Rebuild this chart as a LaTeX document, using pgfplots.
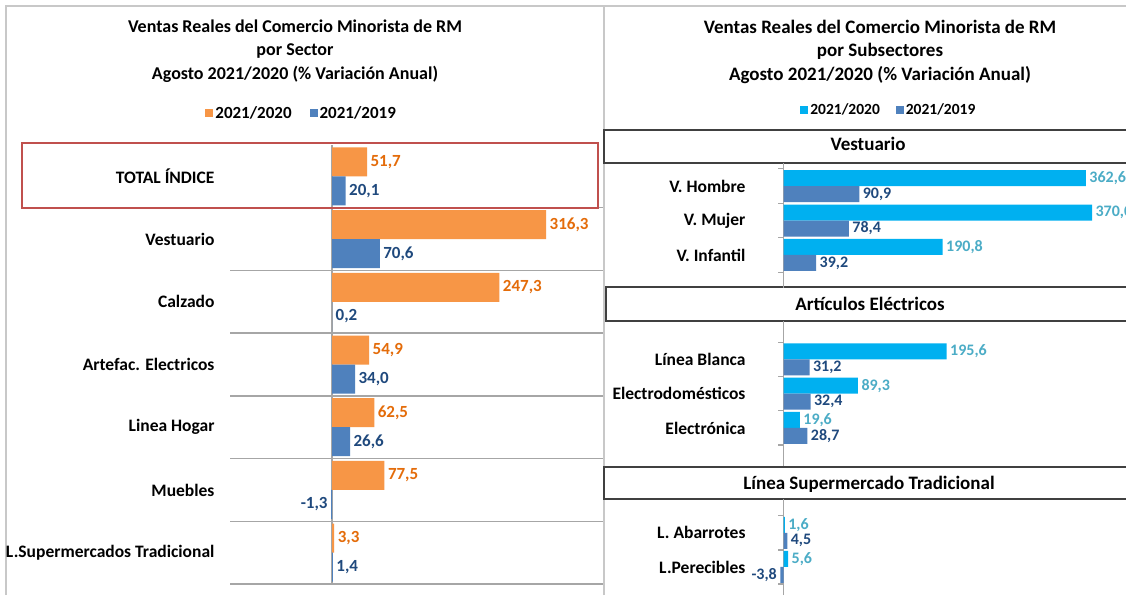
\documentclass[border=0pt]{standalone}
\usepackage{pgfplots}
\pgfplotsset{compat=1.18}
\usepackage{fontspec}
\setmainfont{Carlito}
\definecolor{barO}{HTML}{F79646}
\definecolor{labO}{HTML}{E46C0A}
\definecolor{barB}{HTML}{4F81BD}
\definecolor{labB}{HTML}{1F497D}
\definecolor{barC}{HTML}{00B0F0}
\definecolor{labC}{HTML}{4BACC6}
\definecolor{sep}{HTML}{A6A6A6}
\definecolor{frm}{HTML}{C8C8C8}
\definecolor{boxr}{HTML}{C0504D}
\definecolor{boxk}{HTML}{404040}
\newcommand{\fs}[1]{\bfseries\fontsize{#1}{#1}\selectfont}
\pgfplotsset{
  nnc/.style={nodes near coords={\pgfmathprintnumber[fixed,fixed zerofill,precision=1,use comma,assume math mode=true]{\pgfplotspointmeta}},
    nodes near coords align=horizontal, point meta=x},
  common/.style={xbar, scale only axis, clip=false,
    axis line style={draw=none}, xtick=\empty, major tick length=0pt,
    minor tick length=0pt, nnc},
}
\begin{document}
\begin{tikzpicture}
\useasboundingbox (0,0) rectangle (1126pt,595pt);
\clip (0,0) rectangle (1126pt,595pt);
\fill[white] (0,0) rectangle (1126pt,595pt);
% frames
\draw[frm, line width=1.5pt] (6pt,0pt) -- (6pt,589pt) -- (1126pt,589pt);
% left titles
\node[font=\fs{18}, anchor=base] at (295pt,562pt) {Ventas Reales del Comercio Minorista de RM};
\node[font=\fs{18}, anchor=base] at (295pt,539pt) {por Sector};
\node[font=\fs{18}, anchor=base] at (295pt,515pt) {Agosto 2021/2020 (\% Variación Anual)};
% right titles
\node[font=\fs{19}, anchor=base] at (880pt,561pt) {Ventas Reales del Comercio Minorista de RM};
\node[font=\fs{19}, anchor=base] at (880pt,538pt) {por Subsectores};
\node[font=\fs{19}, anchor=base] at (880pt,514pt) {Agosto 2021/2020 (\% Variación Anual)};

% LEFT AXIS
\begin{axis}[common,
  at={(230pt,11pt)}, anchor=south west, width=373pt, height=439pt,
  xmin=-150.67, xmax=400.3, ymin=-0.5, ymax=6.5,
  ytick={0,...,6},
  yticklabels={L.Supermercados Tradicional, Muebles, Linea Hogar, Artefac. Electricos, Calzado, Vestuario, TOTAL ÍNDICE},
  yticklabel style={font=\fs{17.5}, xshift=-12pt},
  minor ytick={-0.5,0.5,...,5.5}, yminorgrids, minor grid style={sep, line width=1.3pt},
  bar width=29pt,
  legend columns=2,
  legend style={draw=none, at={(0.192,1.073)}, anchor=center, font=\fs{17},
    /tikz/every even column/.append style={column sep=16pt}},
  legend image code/.code={\fill[#1] (0pt,-4pt) rectangle (8pt,4pt);},
]
\draw[sep, line width=1.2pt] (axis cs:0,-0.5) -- (axis cs:0,6.5);
\addplot[fill=barO, draw=none, bar shift=14.5pt,
  every node near coord/.append style={text=labO, font=\fs{17}}]
  coordinates {(51.7,6) (316.3,5) (247.3,4) (54.9,3) (62.5,2) (77.5,1) (3.3,0)};
\addplot[fill=barB, draw=none, bar shift=-14.5pt,
  every node near coord/.append style={text=labB, font=\fs{17}}]
  coordinates {(20.1,6) (70.6,5) (0.2,4) (34.0,3) (26.6,2) (-1.3,1) (1.4,0)};
\legend{2021/2020, 2021/2019}
\end{axis}
\draw[boxr, line width=2pt] (22pt,387pt) rectangle (598pt,452pt);
\draw[frm, line width=1.5pt] (604pt,0pt) -- (604pt,589pt);

% RIGHT header boxes
\draw[boxk, line width=1.5pt] (604pt,432pt) rectangle (1130pt,465pt);
\node[font=\fs{19}, anchor=base] at (868pt,444pt) {Vestuario};
\draw[boxk, line width=1.5pt] (606pt,274pt) rectangle (1130pt,308pt);
\node[font=\fs{19}, anchor=base] at (870pt,285pt) {Artículos Eléctricos};
\draw[boxk, line width=1.5pt] (604pt,96pt) rectangle (1130pt,128pt);
\node[font=\fs{19}, anchor=base] at (869pt,106pt) {Línea Supermercado Tradicional};

% R1 Vestuario
\begin{axis}[common,
  at={(760pt,307pt)}, anchor=south west, width=366pt, height=125pt,
  xmin=-28.18, xmax=410.67, ymin=-0.96, ymax=2.67,
  ytick={0,1,2}, yticklabels={V. Infantil, V. Mujer, V. Hombre},
  yticklabel style={font=\fs{17.5}, xshift=-11pt},
  bar width=16pt,
  legend columns=2,
  legend style={draw=none, at={(0.352,1.424)}, anchor=center, font=\fs{15.5},
    /tikz/every even column/.append style={column sep=14pt}},
  legend image code/.code={\fill[#1] (0pt,-4pt) rectangle (8pt,4pt);},
]
\draw[sep, line width=1.2pt] (axis cs:0,-0.96) -- (axis cs:0,2.67);
\draw[sep, line width=1.2pt] (axis cs:0,-0.5) -- ++(-6pt,0pt);
\draw[sep, line width=1.2pt] (axis cs:0,0.5) -- ++(-6pt,0pt);
\draw[sep, line width=1.2pt] (axis cs:0,1.5) -- ++(-6pt,0pt);
\draw[sep, line width=1.2pt] (axis cs:0,2.5) -- ++(-6pt,0pt);
\addplot[fill=barC, draw=none, bar shift=8pt,
  every node near coord/.append style={text=labC, font=\fs{16}}]
  coordinates {(362.6,2) (370.0,1) (190.8,0)};
\addplot[fill=barB, draw=none, bar shift=-8pt,
  every node near coord/.append style={text=labB, font=\fs{16}}]
  coordinates {(90.9,2) (78.4,1) (39.2,0)};
\legend{2021/2020, 2021/2019}
\end{axis}

% R2 Articulos Electricos
\begin{axis}[common,
  at={(760pt,129pt)}, anchor=south west, width=366pt, height=145pt,
  xmin=-28.18, xmax=410.67, ymin=-1.11, ymax=3.12,
  ytick={0,1,2}, yticklabels={Electrónica, Electrodomésticos, Línea Blanca},
  yticklabel style={font=\fs{17.5}, xshift=-11pt},
  bar width=16pt,
]
\draw[sep, line width=1.2pt] (axis cs:0,-1.11) -- (axis cs:0,3.12);
\draw[sep, line width=1.2pt] (axis cs:0,-0.5) -- ++(-6pt,0pt);
\draw[sep, line width=1.2pt] (axis cs:0,0.5) -- ++(-6pt,0pt);
\draw[sep, line width=1.2pt] (axis cs:0,1.5) -- ++(-6pt,0pt);
\draw[sep, line width=1.2pt] (axis cs:0,2.5) -- ++(-6pt,0pt);
\addplot[fill=barC, draw=none, bar shift=8pt,
  every node near coord/.append style={text=labC, font=\fs{16}}]
  coordinates {(195.6,2) (89.3,1) (19.6,0)};
\addplot[fill=barB, draw=none, bar shift=-8pt,
  every node near coord/.append style={text=labB, font=\fs{16}}]
  coordinates {(31.2,2) (32.4,1) (28.7,0)};
\end{axis}

% R3 Supermercado
\begin{axis}[common,
  at={(760pt,0pt)}, anchor=south west, width=366pt, height=96pt,
  xmin=-28.18, xmax=410.67, ymin=-0.82, ymax=1.99,
  ytick={0,1}, yticklabels={L.Perecibles, L. Abarrotes},
  yticklabel style={font=\fs{17.5}, xshift=-11pt},
  bar width=16pt,
]
\draw[sep, line width=1.2pt] (axis cs:0,-0.82) -- (axis cs:0,1.99);
\draw[sep, line width=1.2pt] (axis cs:0,-0.5) -- ++(-6pt,0pt);
\draw[sep, line width=1.2pt] (axis cs:0,0.5) -- ++(-6pt,0pt);
\draw[sep, line width=1.2pt] (axis cs:0,1.5) -- ++(-6pt,0pt);
\addplot[fill=barC, draw=none, bar shift=8pt,
  every node near coord/.append style={text=labC, font=\fs{16}}]
  coordinates {(1.6,1) (5.6,0)};
\addplot[fill=barB, draw=none, bar shift=-8pt,
  every node near coord/.append style={text=labB, font=\fs{16}}]
  coordinates {(4.5,1) (-3.8,0)};
\end{axis}
\end{tikzpicture}
\end{document}
